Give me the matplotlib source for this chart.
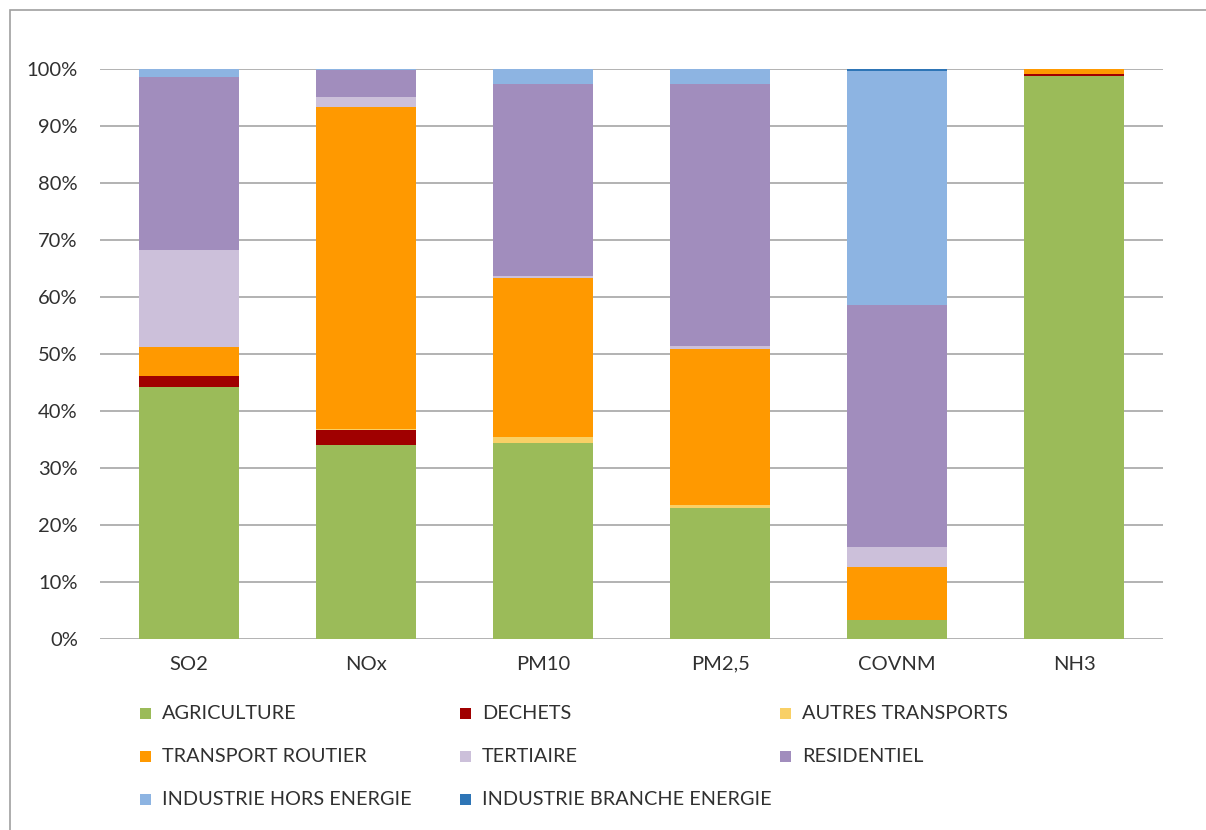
import numpy as np
import matplotlib.pyplot as plt
from matplotlib.patches import Rectangle

polluants = ["SO2", "NOx", "PM10", "PM2,5", "COVNM", "NH3"]

secteurs = ["AGRICULTURE", "DECHETS", "AUTRES TRANSPORTS",
            "TRANSPORT ROUTIER", "TERTIAIRE", "RESIDENTIEL",
            "INDUSTRIE HORS ENERGIE", "INDUSTRIE BRANCHE ENERGIE"]

# parts en % par polluant
agriculture = [44.2, 34.0, 34.4, 23.0, 3.3, 98.8]
dechets = [1.9, 2.6, 0.0, 0.0, 0.0, 0.3]
autres_transports = [0.0, 0.3, 1.0, 0.5, 0.1, 0.0]
transport_routier = [5.1, 56.4, 27.9, 27.4, 9.2, 0.9]
tertiaire = [17.0, 1.8, 0.4, 0.5, 3.5, 0.0]
residentiel = [30.4, 4.7, 33.7, 46.0, 42.5, 0.0]
industrie_hors = [1.4, 0.2, 2.6, 2.6, 41.1, 0.0]
industrie_branche = [0.0, 0.0, 0.0, 0.0, 0.3, 0.0]

couleurs = ["#9BBB59", "#A00000", "#F9D066", "#FF9900",
            "#CCC0DA", "#A18DBD", "#8DB4E2", "#2E75B6"]

series = [agriculture, dechets, autres_transports, transport_routier,
          tertiaire, residentiel, industrie_hors, industrie_branche]

plt.rcParams['font.family'] = ['Lato', 'DejaVu Sans']
texte = "#303030"

W, H = 1206, 830
fig = plt.figure(figsize=(W / 100, H / 100), dpi=100)
ax = fig.add_axes([100 / W, 1 - 639 / H, (1163 - 100) / W, (639 - 69) / H])

x = np.arange(len(polluants))
bas = np.zeros(len(polluants))
for vals, c, nom in zip(series, couleurs, secteurs):
    v = np.array(vals)
    ax.bar(x, v, bottom=bas, width=0.565, color=c, label=nom, linewidth=0, zorder=3)
    bas += v

ax.set_xlim(-0.5, len(polluants) - 0.5)
ax.set_ylim(0, 100)
ax.set_yticks(np.arange(0, 101, 10))
ax.set_yticklabels([f"{t}%" for t in range(0, 101, 10)])
ax.set_xticks(x)
ax.set_xticklabels(polluants)
ax.yaxis.grid(True, color="#A6A6A6", linewidth=1.2, zorder=0)
for s in ax.spines.values():
    s.set_visible(False)
ax.tick_params(axis='both', length=0, labelsize=14.5, colors=texte)
ax.tick_params(axis='y', pad=16)
ax.tick_params(axis='x', pad=12)

# cadre du graphique
fig.patches.append(Rectangle((10 / W, -0.1), 1.2, 1.1 - 10 / H, transform=fig.transFigure,
                             fill=False, edgecolor="#A0A0A0", linewidth=1.2))

# legende sur 3 colonnes
col_x = [145, 465, 785]
lig_y = [713, 756, 799]
for i, (nom, c) in enumerate(zip(secteurs, couleurs)):
    cx = col_x[i % 3]
    cy = lig_y[i // 3]
    fig.patches.append(Rectangle(((cx - 5.5) / W, 1 - (cy + 5.5) / H), 11 / W, 11 / H,
                                 transform=fig.transFigure, color=c, linewidth=0))
    fig.text((cx + 17) / W, 1 - cy / H, nom, ha='left', va='center',
             fontsize=14.3, color=texte)

fig.savefig("out.png", dpi=100)
